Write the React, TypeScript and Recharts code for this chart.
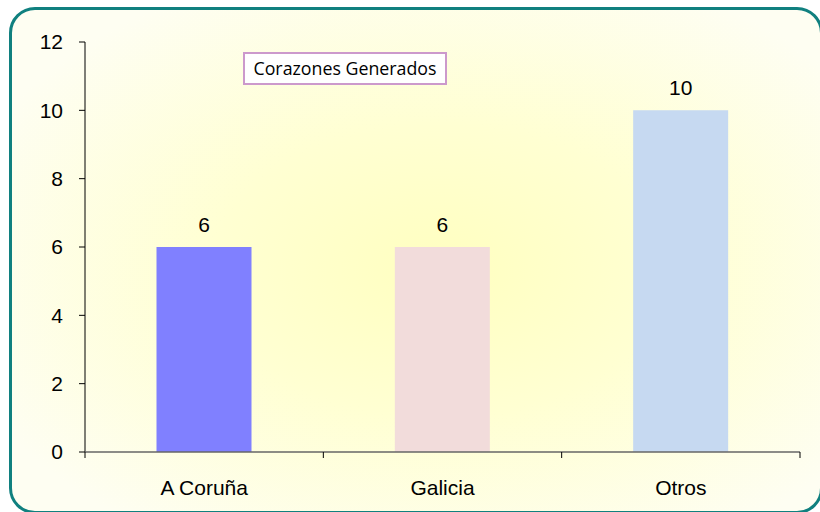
import React from 'react';
import { BarChart, Bar, XAxis, YAxis, Cell, LabelList, Legend } from 'recharts';

const categories = ['A Coruña', 'Galicia', 'Otros'];
const values = [6, 6, 10];
const barColors = ['#8080FF', '#F2DCDB', '#C6D9F1'];
const yTicks = [0, 2, 4, 6, 8, 10, 12];
const seriesName = 'Corazones Generados';

const data = categories.map((c, i) => ({ name: c, value: values[i] }));

const font = '"Liberation Sans", Arial, sans-serif';

const LegendBox = (props: any) => {
  const item = props.payload && props.payload[0];
  return (
    <div
      style={{
        width: 200,
        height: 29,
        border: '2px solid #CC99CC',
        background: '#FFFFFF',
        fontFamily: '"Open Sans", "Noto Sans", sans-serif',
        fontSize: 17.8,
        color: '#000',
        lineHeight: '29px',
        textAlign: 'center',
        boxSizing: 'content-box',
        whiteSpace: 'nowrap',
      }}
    >
      {item ? item.value : seriesName}
    </div>
  );
};

const CategoryTick = (props: any) => {
  const { x, y, payload, index, visibleTicksCount } = props;
  const half = payload && typeof payload.offset === 'number' ? payload.offset : 0;
  const last = index === (visibleTicksCount ?? categories.length) - 1;
  return (
    <g>
      <line x1={x - half} x2={x - half} y1={y} y2={y + 6} stroke="#000000" strokeWidth={1} />
      {last && <line x1={x + half} x2={x + half} y1={y} y2={y + 6} stroke="#000000" strokeWidth={1} />}
      <text x={x} y={y + 43} textAnchor="middle" fill="#000000" fontSize={21} fontFamily={font}>
        {payload.value}
      </text>
    </g>
  );
};

export default function App() {
  return (
    <div style={{ position: 'absolute', left: 0, top: 0, width: 820, height: 512, overflow: 'hidden', background: '#FFFFFF' }}>
      <div
        style={{
          position: 'absolute',
          left: 9,
          top: 7,
          width: 808,
          height: 501,
          borderRadius: 26,
          border: '3px solid #10807F',
          background: 'radial-gradient(ellipse 62% 64% at 53% 52%, #FFFFC0 0%, #FFFFD2 45%, #FEFEF2 100%)',
        }}
      />
      <div style={{ position: 'absolute', left: 0, top: 0 }}>
        <BarChart
          width={820}
          height={512}
          data={data}
          margin={{ top: 42, right: 20, left: 0, bottom: 30 }}
          barCategoryGap="30%"
        >
          <YAxis
            type="number"
            domain={[0, 12]}
            ticks={yTicks}
            width={85}
            interval={0}
            axisLine={{ stroke: '#000000', strokeWidth: 1 }}
            tickLine={{ stroke: '#000000' }}
            tickSize={6}
            tickMargin={16}
            tick={{ fill: '#000000', fontSize: 21, fontFamily: font }}
          />
          <XAxis
            dataKey="name"
            height={30}
            axisLine={{ stroke: '#666666', strokeWidth: 1.5 }}
            tickLine={false}
            tickSize={0}
            tickMargin={0}
            interval={0}
            tick={<CategoryTick />}
          />
          <Legend
            layout="horizontal"
            verticalAlign="middle"
            align="center"
            content={<LegendBox />}
            wrapperStyle={{ position: 'absolute', left: 243, top: 52, width: 204, height: 33 }}
          />
          <Bar dataKey="value" name={seriesName} isAnimationActive={false} fill="#8080FF">
            {data.map((d, i) => (
              <Cell key={d.name} fill={barColors[i]} />
            ))}
            <LabelList
              dataKey="value"
              position="top"
              offset={15}
              style={{ fill: '#000000', fontSize: 21, fontFamily: font }}
            />
          </Bar>
        </BarChart>
      </div>
    </div>
  );
}
